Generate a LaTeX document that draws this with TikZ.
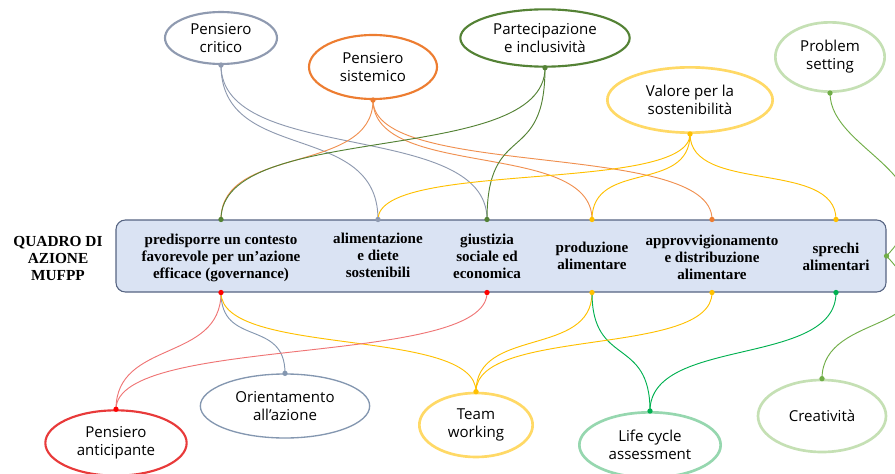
\documentclass[tikz,border=0pt]{standalone}
\usepackage{fontspec}
\setmainfont{Liberation Serif}
\newfontfamily\skillfont{Open Sans}
\usepackage{xcolor}
\usetikzlibrary{shapes.geometric}
\definecolor{boxfill}{RGB}{218,227,243}
\definecolor{boxline}{RGB}{86,100,130}
\definecolor{critgray}{RGB}{143,154,176}
\definecolor{sysorange}{RGB}{237,125,49}
\definecolor{partgreen}{RGB}{84,130,53}
\definecolor{valyellow}{RGB}{255,217,102}
\definecolor{dotyellow}{RGB}{255,192,0}
\definecolor{probgreen}{RGB}{197,224,180}
\definecolor{linkgreen}{RGB}{112,173,71}
\definecolor{lcagreen}{RGB}{0,176,80}
\definecolor{lcaring}{RGB}{150,215,175}
\definecolor{antired}{RGB}{232,58,58}
\definecolor{orientblue}{RGB}{132,151,176}
\tikzset{
  skill/.style={ellipse, draw=#1, line width=1.6pt, fill=white, inner sep=0pt,
    align=center, font=\skillfont\fontsize{11.3}{13.5}\selectfont},
  pillar/.style={align=center, inner sep=0pt,
    font=\bfseries\fontsize{11.3}{12.75}\selectfont},
  link/.style={line width=0.7pt, draw=#1},
  sway/.style={to path={.. controls +(0,#1) and +(0,-#1) .. (\tikztotarget)}},
  port/.style={fill=#1}
}

\begin{document}
\begin{tikzpicture}[x=0.75pt, y=-0.75pt]
  \useasboundingbox (0,0) rectangle (895,474);

  % frame of the action areas
  \node[draw=boxline, fill=boxfill, line width=0.8pt, rounded corners=7pt,
    minimum width=577.5pt, minimum height=54pt] (quadro) at (501,256) {};
  \node[pillar, font=\bfseries\fontsize{11.5}{12.75}\selectfont] (mufpp) at (58,258)
    {QUADRO DI\\AZIONE\\MUFPP};

  \node[pillar] (gov) at (221,258)
    {predisporre un contesto\\favorevole per un’azione\\efficace (governance)};
  \node[pillar] (alim) at (378,255) {alimentazione\\e diete\\sostenibili};
  \node[pillar] (giust) at (487,256) {giustizia\\sociale ed\\economica};
  \node[pillar] (prod) at (592,256) {produzione\\alimentare};
  \node[pillar] (approv) at (712,257)
    {approvvigionamento\\e distribuzione\\alimentare};
  \node[pillar] (sprechi) at (836,257) {sprechi\\alimentari};

  \foreach \p in {gov,alim,giust,prod,approv,sprechi} {
    \coordinate (\p-t) at (\p |- quadro.north);
    \coordinate (\p-b) at (\p |- quadro.south);
  }
  \coordinate (sprechi-r) at (quadro.east);

  % competences
  \node[skill=critgray, minimum width=84pt, minimum height=39pt] (critico)
    at (221,38) {Pensiero\\critico};
  \node[skill=sysorange, minimum width=96pt, minimum height=48pt] (sistemico)
    at (373,67) {Pensiero\\sistemico};
  \node[skill=partgreen, minimum width=127pt, minimum height=43pt] (partecip)
    at (545,38) {Partecipazione\\e inclusività};
  \node[skill=valyellow, line width=2pt, minimum width=124pt, minimum height=49pt]
    (valore) at (690,100) {Valore per la\\sostenibilità};
  \node[skill=probgreen, line width=2pt, minimum width=82pt, minimum height=52pt]
    (problem) at (830,57) {Problem\\setting};
  \node[skill=orientblue, line width=1pt, minimum width=127pt, minimum height=48pt]
    (orient) at (285,406) {Orientamento\\all’azione};
  \node[skill=antired, minimum width=106pt, minimum height=49pt] (anticip)
    at (116,443) {Pensiero\\anticipante};
  \node[skill=valyellow, line width=2pt, minimum width=85pt, minimum height=48pt]
    (team) at (476,425) {Team\\working};
  \node[skill=lcaring, line width=2pt, minimum width=106pt, minimum height=49pt]
    (lca) at (650,445) {Life cycle\\assessment};
  \node[skill=probgreen, line width=2pt, minimum width=96pt, minimum height=54pt]
    (creat) at (822,416) {Creatività};

  % links above the frame
  \draw[link=critgray] (critico.south) to[sway=100] (alim-t);
  \draw[link=critgray] (critico.south) to[sway=100] (giust-t);
  \draw[link=sysorange!85] (sistemico.south) to[sway=75] (gov-t);
  \draw[link=sysorange!85] (sistemico.south) to[sway=80] (prod-t);
  \draw[link=sysorange!85] (sistemico.south) to[sway=80] (approv-t);
  \draw[link=partgreen] (partecip.south) to[sway=100] (gov-t);
  \draw[link=partgreen] (partecip.south) to[sway=100] (giust-t);
  \draw[link=dotyellow] (valore.south) to[sway=60] (alim-t);
  \draw[link=dotyellow] (valore.south) to[sway=60] (prod-t);
  \draw[link=dotyellow] (valore.south) to[sway=60] (sprechi-t);
  \draw[link=linkgreen] (problem.south) .. controls +(0,60) and +(75,-80)
    .. (sprechi-r);

  % links below the frame
  \draw[link=antired!70] (gov-b) to[sway=70] (anticip.north);
  \draw[link=orientblue] (gov-b) to[sway=55] (orient.north);
  \draw[link=dotyellow] (gov-b) to[sway=65] (team.north);
  \draw[link=antired!70] (giust-b) to[sway=75] (anticip.north);
  \draw[link=dotyellow] (prod-b) to[sway=65] (team.north);
  \draw[link=lcagreen] (prod-b) to[sway=75] (lca.north);
  \draw[link=dotyellow] (approv-b) to[sway=65] (team.north);
  \draw[link=lcagreen] (sprechi-b) to[sway=75] (lca.north);
  \draw[link=linkgreen] (creat.north) .. controls +(0,-70) and +(75,80)
    .. (sprechi-r);

  % ports
  \foreach \p/\c in {gov-t/partgreen, alim-t/critgray, giust-t/partgreen,
      prod-t/dotyellow, approv-t/sysorange, sprechi-t/dotyellow,
      gov-b/red, giust-b/red, prod-b/dotyellow, approv-b/dotyellow,
      sprechi-b/lcagreen, sprechi-r/linkgreen,
      critico.south/critgray, sistemico.south/sysorange,
      partecip.south/partgreen, valore.south/dotyellow,
      problem.south/linkgreen, orient.north/orientblue, anticip.north/red,
      team.north/dotyellow, lca.north/lcagreen, creat.north/linkgreen}
    \fill[port=\c] (\p) circle[radius=2pt];
\end{tikzpicture}
\end{document}
